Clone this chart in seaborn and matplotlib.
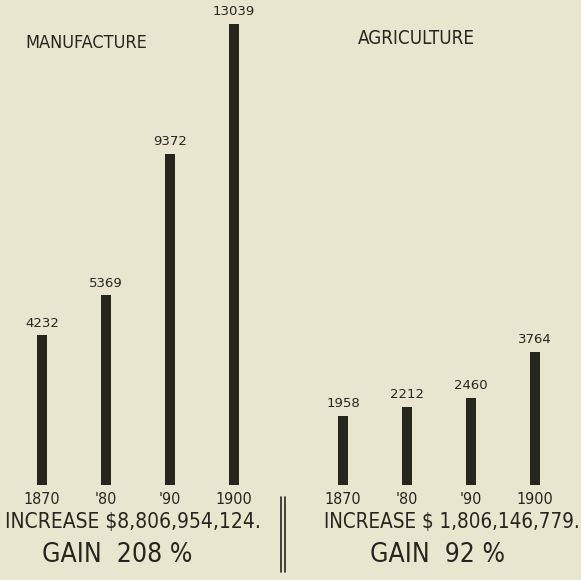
import pandas as pd
import matplotlib.pyplot as plt
import seaborn as sns

# === DATA ===
years = ["1870", "'80", "'90", "1900"]
manufacture = [4232, 5369, 9372, 13039]
agriculture = [1958, 2212, 2460, 3764]
panel_titles = ["MANUFACTURE", "AGRICULTURE"]
increase_text = ["INCREASE $8,806,954,124.", "INCREASE $ 1,806,146,779."]
gain_text = ["GAIN  208 %", "GAIN  92 %"]

BG = "#e9e6cf"
INK = "#26261f"

sns.set_theme(style="white")
plt.rcParams["font.family"] = ["DejaVu Sans"]
plt.rcParams["font.stretch"] = "condensed"

fig = plt.figure(figsize=(5.81, 5.80), dpi=100, facecolor=BG)

H = 580.0
W = 581.0
bottom = 1 - 485 / H
height = 461 / H
ax1 = fig.add_axes([10 / W, bottom, 256 / W, height])
ax2 = fig.add_axes([311 / W, bottom, 256 / W, height], sharey=ax1)

for ax, vals in [(ax1, manufacture), (ax2, agriculture)]:
    df = pd.DataFrame({"year": years, "value": vals})
    sns.barplot(data=df, x="year", y="value", color=INK, width=0.17,
                saturation=1, linewidth=0, edgecolor=INK, ax=ax)
    ax.set_facecolor(BG)
    ax.set_xlim(-0.5, 3.5)
    ax.set_ylim(0, 13039)
    for s in ax.spines.values():
        s.set_visible(False)
    ax.set_yticks([])
    ax.set_xlabel("")
    ax.set_ylabel("")
    ax.tick_params(axis="x", length=0, pad=5, labelsize=11.5, labelcolor=INK)
    for i, v in enumerate(vals):
        ax.annotate(str(v), (i, v), xytext=(0, 4), textcoords="offset points",
                    ha="center", va="bottom", fontsize=9.5, color=INK,
                    fontstretch="normal")

# panel titles
fig.text(25 / W, 1 - 43 / H, panel_titles[0], fontsize=13, color=INK,
         ha="left", va="center")
fig.text(358 / W, 1 - 38 / H, panel_titles[1], fontsize=13.5, color=INK,
         ha="left", va="center")

# totals under each panel
fig.text(133 / W, 1 - 522 / H, increase_text[0], fontsize=15, color=INK,
         ha="center", va="center")
fig.text(117 / W, 1 - 555 / H, gain_text[0], fontsize=19, color=INK,
         ha="center", va="center")
fig.text(452 / W, 1 - 522 / H, increase_text[1], fontsize=14.8, color=INK,
         ha="center", va="center")
fig.text(437 / W, 1 - 555 / H, gain_text[1], fontsize=19, color=INK,
         ha="center", va="center")

# double divider line
for xp in (281, 285):
    fig.add_artist(plt.Line2D([xp / W, xp / W], [1 - 497 / H, 1 - 572 / H],
                              color=INK, lw=1.2))

fig.savefig("out.png", dpi=100, facecolor=BG)
